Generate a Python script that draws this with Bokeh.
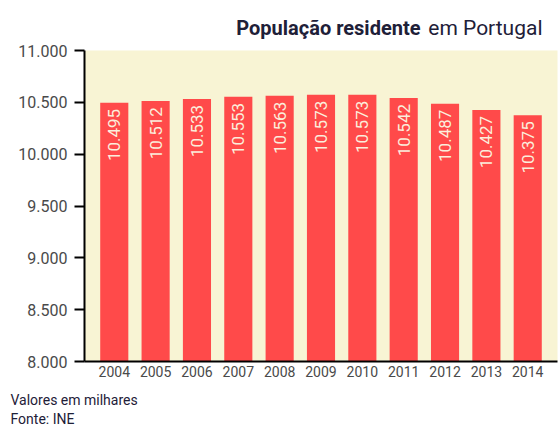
from bokeh.plotting import figure
from bokeh.layouts import column
from bokeh.models import ColumnDataSource, Range1d, FixedTicker, Title
from bokeh.core.properties import value
from bokeh.embed import file_html
from bokeh.resources import INLINE
import math

years = [2004, 2005, 2006, 2007, 2008, 2009, 2010, 2011, 2012, 2013, 2014]
populacao = [10495, 10512, 10533, 10553, 10563, 10573, 10573, 10542, 10487, 10427, 10375]
y_ticks = [8000, 8500, 9000, 9500, 10000, 10500, 11000]
y_tick_labels = ["8.000", "8.500", "9.000", "9.500", "10.000", "10.500", "11.000"]
year_labels = [str(y) for y in years]
bar_labels = [f"{v:,}".replace(",", ".") for v in populacao]
title_bold = "População residente"
title_rest = "em Portugal"
footer_lines = ["Valores em milhares", "Fonte: INE"]

NAVY = "#1E2038"

# ---- header (frame aligned with the chart frame: x in page pixels 84..557) ----
head = figure(width=560, height=40, output_backend="svg", toolbar_location=None,
              x_range=Range1d(84, 557), y_range=Range1d(0, 40),
              x_axis_type=None, y_axis_type=None,
              min_border_left=84, min_border_right=3, min_border_top=0, min_border_bottom=0)
head.outline_line_color = None
head.grid.grid_line_color = None
head.text(x=[542], y=[13], text=[title_rest], text_align="right", text_baseline="alphabetic",
          text_font=value("Roboto"), text_font_size="21px", text_color=NAVY)
head.text(x=[420], y=[13], text=[title_bold], text_align="right", text_baseline="alphabetic",
          text_font=value("Roboto"), text_font_style="bold", text_font_size="20px",
          text_color=NAVY)

# ---- main chart ----
source = ColumnDataSource(dict(year=years, pop=populacao, label=bar_labels))

p = figure(width=560, height=400, output_backend="svg", toolbar_location=None,
           x_range=Range1d(2003.28, 2014.72), y_range=Range1d(8000, 11000),
           min_border_left=84, min_border_right=3, min_border_top=10, min_border_bottom=79)

p.background_fill_color = "#F8F4D4"
p.border_fill_color = "white"
p.outline_line_color = None
p.xgrid.grid_line_color = None
p.ygrid.grid_line_color = None

p.vbar(x="year", top="pop", bottom=8000, width=0.68, source=source,
       fill_color="#FF4A4A", line_color=None)

p.text(x="year", y="pop", text="label", source=source, angle=math.pi / 2,
       text_align="right", text_baseline="middle", y_offset=6,
       text_font=value("Roboto"), text_font_size="17px", text_color="#FBEEDC")

ya = p.yaxis[0]
ya.ticker = FixedTicker(ticks=y_ticks)
ya.major_label_overrides = dict(zip(y_ticks, y_tick_labels))
ya.axis_line_color = "black"
ya.axis_line_width = 2
ya.major_tick_line_color = "black"
ya.major_tick_line_width = 2
ya.major_tick_out = 10
ya.major_tick_in = 0
ya.minor_tick_line_color = None
ya.major_label_text_font = "Roboto"
ya.major_label_text_font_size = "16px"
ya.major_label_text_color = "#4a4a4a"
ya.major_label_standoff = 7

xa = p.xaxis[0]
xa.ticker = FixedTicker(ticks=years)
xa.major_label_overrides = dict(zip(years, year_labels))
xa.axis_line_color = "black"
xa.axis_line_width = 2
xa.major_tick_line_color = None
xa.major_tick_out = 0
xa.major_tick_in = 0
xa.minor_tick_line_color = None
xa.major_label_text_font = "Roboto"
xa.major_label_text_font_size = "14px"
xa.major_label_text_color = "#4a4a4a"
xa.major_label_standoff = 4

# ---- footer notes as a two-line title in the bottom panel ----
p.add_layout(Title(text="\n".join(footer_lines), align="left", offset=-74, standoff=21,
                   text_font="Roboto", text_font_size="14px", text_line_height=1.2,
                   text_font_style="normal", text_color=NAVY), "below")

layout = column(head, p, spacing=0)
open("out.html", "w").write(file_html(layout, INLINE))
